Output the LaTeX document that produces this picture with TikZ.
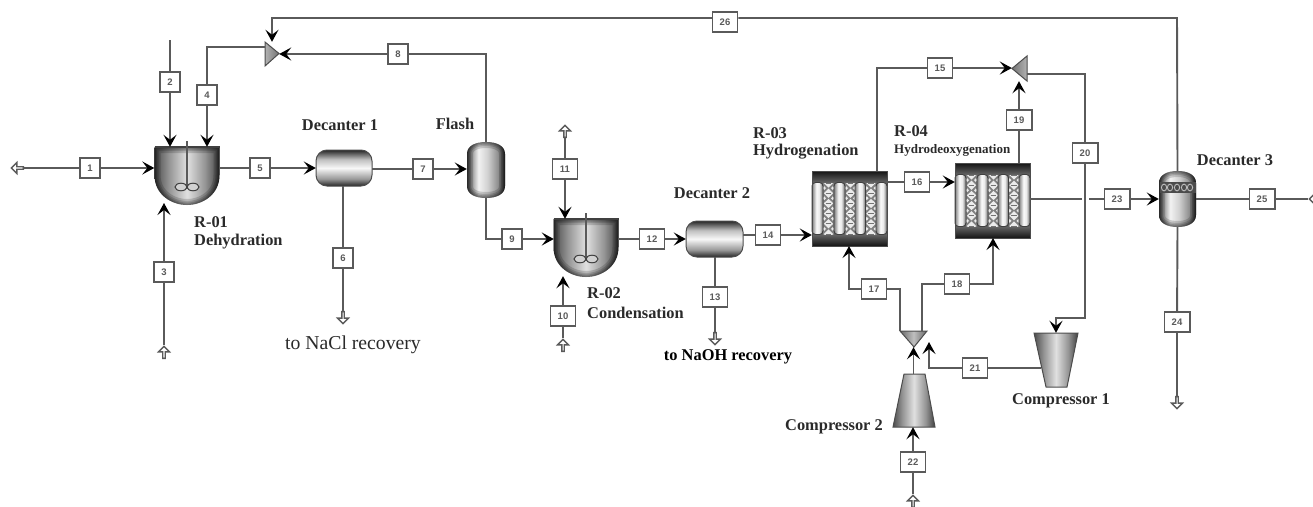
\documentclass[tikz,border=0pt]{standalone}
\usepackage{fontspec}
\setmainfont{Liberation Serif}
\setsansfont{Liberation Sans}
\usetikzlibrary{arrows.meta,shapes.arrows,shapes.geometric,calc}
\definecolor{ln}{HTML}{5A5A5A}
\definecolor{tx}{HTML}{2A2A2A}
\pgfdeclarehorizontalshading{hmetal}{100bp}{rgb(0bp)=(.3,.3,.3);rgb(25bp)=(.3,.3,.3);rgb(36bp)=(.58,.58,.58);rgb(50bp)=(.88,.88,.88);rgb(64bp)=(.58,.58,.58);rgb(75bp)=(.25,.25,.25);rgb(100bp)=(.25,.25,.25)}
\pgfdeclarehorizontalshading{hflash}{100bp}{rgb(0bp)=(.35,.35,.35);rgb(25bp)=(.35,.35,.35);rgb(40bp)=(.95,.95,.95);rgb(52bp)=(.82,.82,.82);rgb(66bp)=(.55,.55,.55);rgb(75bp)=(.22,.22,.22);rgb(100bp)=(.22,.22,.22)}
\pgfdeclarehorizontalshading{hbar}{100bp}{rgb(0bp)=(.5,.5,.5);rgb(25bp)=(.5,.5,.5);rgb(45bp)=(.98,.98,.98);rgb(58bp)=(.92,.92,.92);rgb(75bp)=(.42,.42,.42);rgb(100bp)=(.42,.42,.42)}
\pgfdeclareverticalshading{vdrum}{100bp}{rgb(0bp)=(.15,.15,.15);rgb(25bp)=(.15,.15,.15);rgb(35bp)=(.6,.6,.6);rgb(50bp)=(.97,.97,.97);rgb(62bp)=(.75,.75,.75);rgb(75bp)=(.15,.15,.15);rgb(100bp)=(.15,.15,.15)}
\tikzset{
  x=1pt,y=-1pt,
  stream/.style={draw=ln,line width=1.9pt},
  flow/.style={stream,-{Stealth[length=12pt,width=13pt,inset=5pt,black]}},
  sbox/.style={draw=ln,fill=white,line width=1.4pt,minimum width=20pt,minimum height=20pt,inner xsep=7.5pt,inner ysep=0pt,text=ln,font=\fontsize{9.5}{10}\sffamily\bfseries},
  openarr/.style={single arrow,draw=ln,fill=white,line width=1.4pt,minimum height=12pt,minimum width=11pt,inner sep=0pt,single arrow head extend=2.5pt,single arrow tip angle=90},
  lbl/.style={text=tx,font=\fontsize{16.4}{18}\selectfont\bfseries,inner sep=0pt},
  unitbox/.style={inner sep=0pt,draw=none},
  soft/.style={draw=black,line width=#1,opacity=.16},
}
\newcommand{\softrim}[1]{%
  \begin{scope}
   \clip #1;
   \path[soft=12pt] #1; \path[soft=8pt] #1; \path[soft=5pt] #1; \path[soft=2.5pt] #1;
  \end{scope}}
\newcommand{\stirred}[2]{%
 \begin{scope}[shift={(#1,#2)}]
  \path[shading=hmetal] (-32.5,0) -- (-32.5,28) .. controls (-32.5,48) and (-15,58) .. (0,58) .. controls (15,58) and (32.5,48) .. (32.5,28) -- (32.5,0) -- cycle;
  \softrim{(-32.5,0) -- (-32.5,28) .. controls (-32.5,48) and (-15,58) .. (0,58) .. controls (15,58) and (32.5,48) .. (32.5,28) -- (32.5,0) -- cycle}
  \draw[line width=1.4pt,black!75] (-32.5,0) -- (32.5,0);
  \draw[line width=1.2pt,ln] (0,-6) -- (0,42);
  \draw[line width=1pt,black!75,fill=black!18] (-6,40) ellipse [x radius=6,y radius=3.8];
  \draw[line width=1pt,black!75,fill=black!18] (6,40) ellipse [x radius=6,y radius=3.8];
 \end{scope}}
\newcommand{\catbed}[2]{%
 \begin{scope}[shift={(#1,#2)}]
  \shade[top color=black!92,bottom color=black!62] (0,0) rectangle (75,12);
  \shade[top color=black!62,bottom color=black!92] (0,63) rectangle (75,75);
  \fill[black!62] (0,12) rectangle (75,63);
  \foreach \a in {11,33,53.5}{%
    \fill[black!50] (\a,10) rectangle (\a+11,65);
    \foreach \k in {0,...,5}{%
      \fill[black!8] (\a+5.5,12+\k*10.2-4.6) -- (\a+10.2,12+\k*10.2) -- (\a+5.5,12+\k*10.2+4.6) -- (\a+.8,12+\k*10.2) -- cycle;
      \fill[black!8] (\a+1.2,12+\k*10.2+5.1-1.9) -- (\a+3,12+\k*10.2+5.1) -- (\a+1.2,12+\k*10.2+5.1+1.9) -- (\a,12+\k*10.2+5.1) -- cycle;
      \fill[black!8] (\a+9.8,12+\k*10.2+5.1-1.9) -- (\a+11,12+\k*10.2+5.1) -- (\a+9.8,12+\k*10.2+5.1+1.9) -- (\a+8,12+\k*10.2+5.1) -- cycle;
      \draw[black!55,line width=.8pt] (\a+2.6,12+\k*10.2) -- (\a+8.4,12+\k*10.2);
    }
  }
  \shade[top color=black!92,bottom color=black!62] (0,0) rectangle (75,11);
  \shade[top color=black!62,bottom color=black!92] (0,64) rectangle (75,75);
  \foreach \a/\w in {0/11,22/11,43/10.5,64/11}{%
    \path[shading=hbar,draw=black!75,line width=.9pt,rounded corners=3.5pt] (\a,11.5) rectangle (\a+\w,63.5);
  }
  \draw[black!70,line width=.8pt] (0,0) rectangle (75,75);
 \end{scope}}
\newcommand{\dome}[4]{% x1 y1 x2 y2
  (#1,#2+12) .. controls (#1,#2+4) and (#1+8,#2) .. ({(#1+#3)/2},#2) .. controls (#3-8,#2) and (#3,#2+4) .. (#3,#2+12) -- (#3,#4-12) .. controls (#3,#4-4) and (#3-8,#4) .. ({(#1+#3)/2},#4) .. controls (#1+8,#4) and (#1,#4-4) .. (#1,#4-12) -- cycle}
\begin{document}
\begin{tikzpicture}
\useasboundingbox (0,0) rectangle (1313,506);
% ---- unit footprints
\node[unitbox,minimum width=65pt,minimum height=58pt] (r01) at (187,176) {};
\node[unitbox,minimum width=56pt,minimum height=36pt] (dec1) at (344,168) {};
\node[unitbox,minimum width=38pt,minimum height=56pt] (flash) at (486,170) {};
\node[unitbox,minimum width=64pt,minimum height=57pt] (r02) at (586,247.5) {};
\node[unitbox,minimum width=57pt,minimum height=36pt] (dec2) at (714.5,239) {};
\node[unitbox,minimum width=75pt,minimum height=75pt] (r03) at (849.5,208.5) {};
\node[unitbox,minimum width=75pt,minimum height=75pt] (r04) at (992.5,200.5) {};
\node[unitbox,minimum width=37pt,minimum height=56pt] (dec3) at (1177.5,199) {};
\node[unitbox,minimum width=44pt,minimum height=54pt] (comp1) at (1056,360) {};
\node[unitbox,minimum width=42pt,minimum height=53pt] (comp2) at (914,400.5) {};
\node[unitbox,minimum width=14pt,minimum height=24pt] (mix1) at (272,54) {};
\node[unitbox,minimum width=15pt,minimum height=25pt] (mix2) at (1019.5,68.5) {};
\node[unitbox,minimum width=27pt,minimum height=16pt] (mix3) at (913.5,339) {};
% ---- unit drawings
\stirred{187}{147}
\stirred{586}{219}
\path[shading=vdrum,draw=black!70,line width=1pt,rounded corners=11pt] (316,150) rectangle (372,186);
\path[shading=vdrum,draw=black!70,line width=1pt,rounded corners=11pt] (686,221) rectangle (743,257);
\path[shading=hflash] \dome{467}{142}{505}{198};
\softrim{\dome{467}{142}{505}{198}}
\path[shading=hflash] \dome{1159}{171}{1196}{227};
\softrim{\dome{1159}{171}{1196}{227}}
\fill[black!70] (1159.5,182) rectangle (1195.5,193);
\foreach \xx in {1164,1170,1177,1184,1190}{\draw[black!25,line width=.9pt] (\xx,187.5) ellipse [x radius=2.6,y radius=3.4];}
\catbed{812}{171}
\catbed{955}{163}
\path[shading=hmetal,draw=black!70,line width=1pt] (1034,333) -- (1078,333) -- (1067,387) -- (1046,387) -- cycle;
\path[shading=hmetal,draw=black!70,line width=1pt] (904,374) -- (925,374) -- (935,427) -- (893,427) -- cycle;
\path[shade,left color=black!30,right color=black!55,draw=black!70,line width=1pt] (265,42) -- (265,66) -- (279,53.5) -- cycle;
\path[shade,left color=black!55,right color=black!30,draw=black!70,line width=1pt] (1027,56) -- (1027,81) -- (1012,68.5) -- cycle;
\path[shade,left color=black!60,right color=black!60,middle color=black!25,draw=black!70,line width=1pt] (900,331) -- (927,331) -- (914,347) -- cycle;
% ---- stream boxes
\foreach \n/\px/\py in {1/90/168,2/170/82,3/164/272,4/207/95,5/260/168,6/343/258,7/423/169,8/398/54,9/512/239,10/563/316,11/565/169,12/652/239,13/715/297,14/768/235,15/940/68,16/917/182,17/874/289,18/957/284,19/1019/120,20/1085/153,21/975/368,22/913/462,23/1117/199,24/1177/322,25/1262/199,26/725/22}{%
  \node[sbox] (s\n) at (\px,\py) {\n};
}
% ---- open feed/product arrows
\node[openarr,shape border rotate=180] (o1) at (18,168) {};
\node[openarr,shape border rotate=90] (o3) at (164,353) {};
\node[openarr,shape border rotate=270] (o6) at (343,317) {};
\node[openarr,shape border rotate=90] (o10) at (563,346) {};
\node[openarr,shape border rotate=90] (o11) at (565,132) {};
\node[openarr,shape border rotate=270] (o13) at (715,338) {};
\node[openarr,shape border rotate=90] (o22) at (913,502) {};
\node[openarr,shape border rotate=270] (o24) at (1177,402) {};
\node[openarr,shape border rotate=180] (o25) at (1316,199) {};
% ---- free ends
\coordinate (f2) at (170,40);
\coordinate (in3) at (164,203);
\coordinate (tip17) at (849,246);
\coordinate (tip18) at (993,238);
\coordinate (t26) at (1177,18);
\coordinate (c26) at (272,18);
\coordinate (t20) at (1085,74);
\coordinate (k20) at (1085,318);
\coordinate (k20b) at (1056,318);
\coordinate (t21) at (929,342);
\coordinate (b17) at (900,289);
\coordinate (b17b) at (849,289);
\coordinate (b18) at (922,284);
\coordinate (b18b) at (993,284);
% ---- connectors
\draw[stream] (o1) -- (s1);
\draw[flow] (s1) -- (s1 -| r01.west);
\draw[stream] (f2) -- (s2);
\draw[flow] (s2) -- (s2 |- r01.north);
\draw[stream] (o3) -- (s3);
\draw[flow] (s3) -- (in3);
\draw[stream] (mix1.west |- 0,47) -| (s4);
\draw[flow] (s4) -- (s4 |- r01.north);
\draw[stream] (s5 -| r01.east) -- (s5);
\draw[flow] (s5) -- (s5 -| dec1.west);
\draw[stream] (s6 |- dec1.south) -- (s6);
\draw[stream] (s6) -- (o6);
\draw[stream] (s7 -| dec1.east) -- (s7);
\draw[flow] (s7) -- (s7 -| flash.west);
\draw[stream] (flash.north) |- (s8);
\draw[flow] (s8) -- (mix1.east |- s8);
\draw[stream] (flash.south) |- (s9);
\draw[flow] (s9) -- (s9 -| r02.west);
\draw[stream] (o10) -- (s10);
\draw[flow] (s10) -- (s10 |- r02.south);
\draw[stream] (o11) -- (s11);
\draw[flow] (s11) -- (s11 |- r02.north);
\draw[stream] (s12 -| r02.east) -- (s12);
\draw[flow] (s12) -- (s12 -| dec2.west);
\draw[stream] (s13 |- dec2.south) -- (s13);
\draw[stream] (s13) -- (o13);
\draw[stream] (s14 -| dec2.east) -- (s14);
\draw[flow] (s14) -- (s14 -| r03.west);
\draw[stream] (r03.north -| 877,0) |- (s15);
\draw[flow] (s15) -- (mix2.west |- s15);
\draw[stream] (s16 -| r03.east) -- (s16);
\draw[flow] (s16) -- (s16 -| r04.west);
\draw[stream] (mix3.north -| b17) -- (b17) -- (s17);
\draw[flow] (s17) -- (b17b) -- (tip17);
\draw[stream] (mix3.north -| b18) -- (b18) -- (s18);
\draw[flow] (s18) -- (b18b) -- (tip18);
\draw[stream] (s19 |- r04.north) -- (s19);
\draw[flow] (s19) -- (s19 |- mix2.south);
\draw[stream] (s23 -| r04.east) -- (s23);
\draw[flow] (s23) -- (s23 -| dec3.west);
\fill[white] (1081.5,196) rectangle (1089,202);
\draw[stream] (mix2.east |- t20) -- (t20) -- (s20);
\draw[flow] (s20) -- (k20) -- (k20b) -- (k20b |- comp1.north);
\draw[stream] (1041,368) -- (s21);
\draw[flow] (s21) -| (t21);
\draw[stream] (o22) -- (s22);
\draw[flow] (s22) -- (s22 |- comp2.south);
\draw[flow] (mix3.south |- comp2.north) -- (mix3.south);
\draw[stream] (dec3.south) -- (s24);
\draw[stream] (s24) -- (o24);
\draw[stream] (s25 -| dec3.east) -- (s25);
\draw[stream] (s25) -- (o25);
\draw[stream] (dec3.north) -- (t26) -- (s26.east |- t26);
\draw[flow] (s26.west |- t26) -- (c26) -- (c26 |- mix1.north);
% ---- labels
\node[lbl] (ldec1) at (340,125) {Decanter 1};
\node[lbl] (lflash) at (455,124) {Flash};
\node[lbl,anchor=west] (lr01) at (194,222) {R-01};
\node[lbl,anchor=west] (ldehy) at (194,242) {Dehydration};
\node[lbl,font=\fontsize{19.7}{22}\selectfont] (lnacl) at (353,345) {to NaCl recovery};
\node[lbl] (ldec2) at (712,193) {Decanter 2};
\node[lbl,anchor=west] (lr02) at (587,293) {R-02};
\node[lbl,anchor=west] (lcond) at (587,313) {Condensation};
\node[lbl,text=black] (lnaoh) at (728,357) {to NaOH recovery};
\node[lbl,anchor=west] (lr03) at (753,133) {R-03};
\node[lbl,anchor=west] (lhyd) at (753,152) {Hydrogenation};
\node[lbl,anchor=west] (lr04) at (894,131) {R-04};
\node[lbl,anchor=west,font=\fontsize{13}{15}\selectfont\bfseries] (lhdo) at (894,150) {Hydrodeoxygenation};
\node[lbl] (ldec3) at (1235,160) {Decanter 3};
\node[lbl] (lc1) at (1061,401) {Compressor 1};
\node[lbl,anchor=east] (lc2) at (883,427) {Compressor 2};
\end{tikzpicture}
\end{document}
